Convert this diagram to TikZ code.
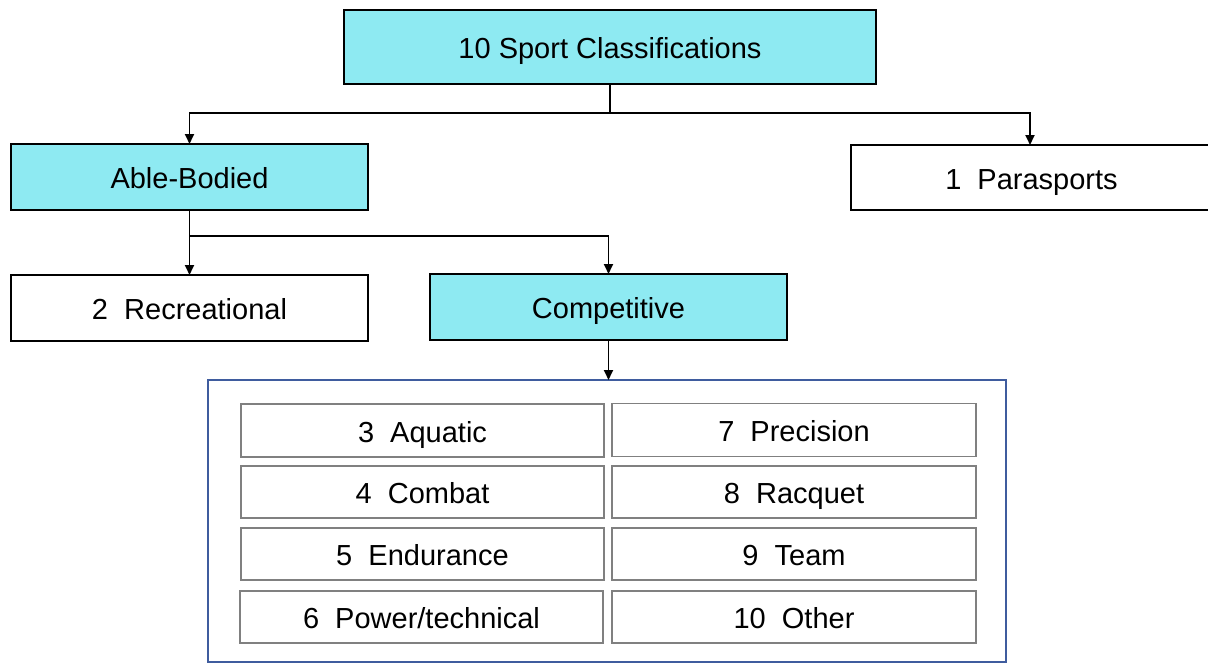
\documentclass[tikz,border=0pt]{standalone}
\usepackage{fontspec}
\setmainfont{Liberation Sans}
\usetikzlibrary{arrows.meta}
\definecolor{boxcyan}{HTML}{8EEAF2}
\definecolor{frameblue}{HTML}{3F5C9E}
\definecolor{innergray}{HTML}{808080}
\tikzset{
  base/.style={draw=black, line width=1.8pt, outer sep=0pt, inner sep=0pt,
    font=\fontsize{29}{35}\selectfont, text=black, anchor=center,
    text height=25pt, text depth=2pt},
  cyanbox/.style={base, fill=boxcyan},
  whitebox/.style={base, fill=white},
  innerbox/.style={base, draw=innergray, line width=1.3pt, minimum height=52pt},
  conn/.style={draw=black, line width=1.8pt},
  arr/.style={conn, -{Triangle[length=10pt,width=9pt]}}
}
\begin{document}
\begin{tikzpicture}[x=1pt,y=-1pt]
\useasboundingbox (0,0) rectangle (1208,664);
\fill[white] (0,0) rectangle (1208,664);

\node[cyanbox, minimum width=532pt, minimum height=74pt] (top) at (610,47) {10 Sport Classifications};
\node[cyanbox, minimum width=357pt, minimum height=66pt] (able) at (189.5,177) {Able-Bodied};
\node[whitebox, minimum width=361pt, minimum height=65pt] (para) at (1031.5,177.5) {1\ \ Parasports};
\node[whitebox, minimum width=357pt, minimum height=66pt] (rec) at (189.5,308) {2\ \ Recreational};
\node[cyanbox, minimum width=357pt, minimum height=66pt] (comp) at (608.5,307) {Competitive};

\node[draw=frameblue, line width=1.4pt, minimum width=798pt, minimum height=282pt, inner sep=0pt, outer sep=0pt] (frame) at (607,521) {};

\node[innerbox, minimum width=363pt, minimum height=53pt] (aq) at (422.5,430.5) {3\ \ Aquatic};
\node[innerbox, minimum width=363pt] (co) at (422.5,492) {4\ \ Combat};
\node[innerbox, minimum width=363pt] (en) at (422.5,554) {5\ \ Endurance};
\node[innerbox, minimum width=363pt] (pw) at (421.5,617) {6\ \ Power/technical};
\node[innerbox, minimum width=364pt, minimum height=53pt] (pr) at (794,430) {7\ \ Precision};
\node[innerbox, minimum width=364pt] (ra) at (794,492) {8\ \ Racquet};
\node[innerbox, minimum width=364pt] (te) at (794,554) {9\ \ Team};
\node[innerbox, minimum width=364pt] (ot) at (794,617) {10\ \ Other};

\coordinate (j1) at (610,113);
\coordinate (j2) at (189.5,236);
\draw[conn] (top.south) -- (j1);
\draw[arr] (j1) -| (able.north);
\draw[arr] (j1) -| ([xshift=-1.5pt]para.north);
\draw[arr] (able.south) -- (rec.north);
\draw[arr] (j2) -| (comp.north);
\draw[arr] (comp.south) -- (comp.south |- frame.north);
\end{tikzpicture}
\end{document}
